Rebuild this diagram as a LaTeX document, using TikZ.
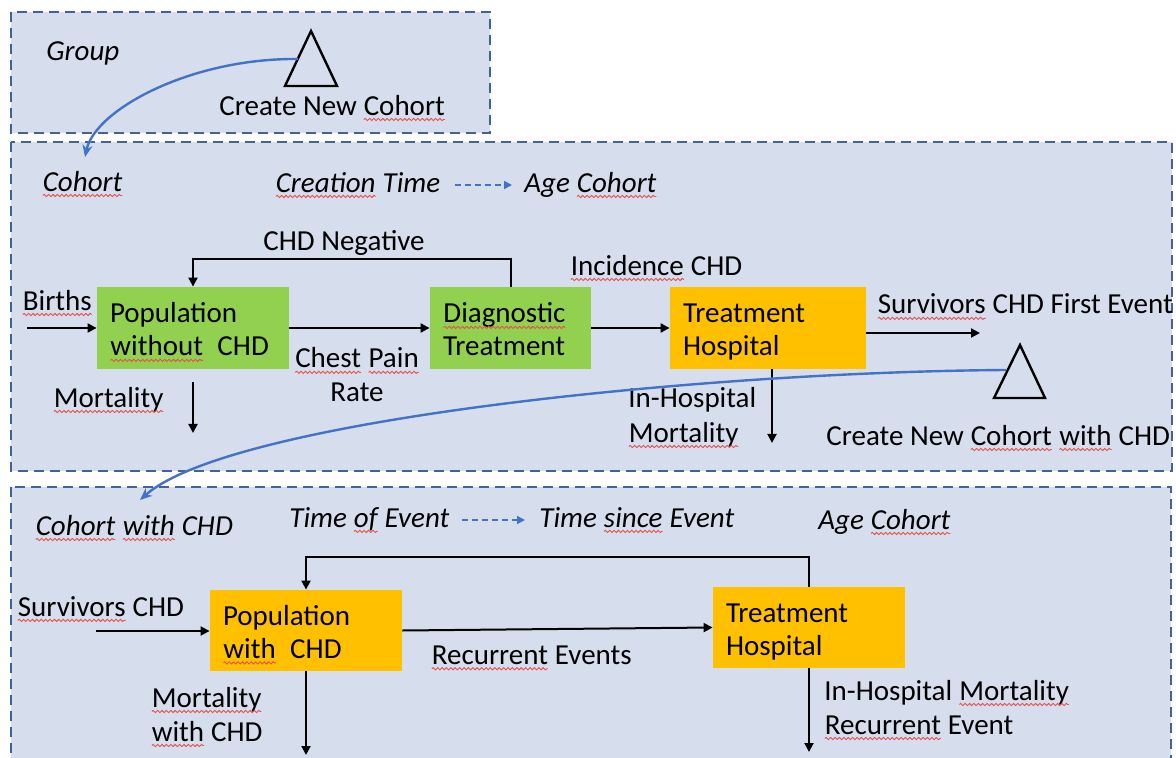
\documentclass[tikz,border=0pt]{standalone}
\usepackage{fontspec}
\setmainfont{Carlito}
\usetikzlibrary{arrows.meta,calc,decorations.pathmorphing}
\definecolor{panel}{RGB}{214,222,238}
\definecolor{frame}{RGB}{64,100,152}
\definecolor{link}{RGB}{68,114,196}
\definecolor{leaf}{RGB}{146,208,80}
\definecolor{amber}{RGB}{255,192,0}
\definecolor{spell}{RGB}{232,80,80}
% word with a wavy spelling underline
\newcommand\sq[1]{\tikz[baseline=(sqw.base)]{%
  \node[inner sep=0pt, outer sep=0pt, text width={}, minimum width=0pt,
        minimum height=0pt, fill=none, draw=none, anchor=center] (sqw) {#1};
  \draw[spell, line width=0.45pt, solid, decorate,
        decoration={snake, amplitude=0.55pt, segment length=2.2pt}]
    ([yshift=-2.2pt]sqw.base west) -- ([yshift=-2.2pt]sqw.base east);}}
% fixed line heights inside the boxes
\newcommand\topln{\rule{0pt}{15.5pt}}
\newcommand\botln{\rule[-4pt]{0pt}{4pt}}
\tikzset{
  x=0.5pt, y=-0.5pt,
  panelbox/.style={fill=panel, draw=frame, line width=1pt, dash pattern=on 5pt off 3pt},
  lbl/.style={inner sep=0pt, anchor=west, align=left, yshift=-1pt,
    font=\fontsize{14.5}{17}\selectfont},
  itl/.style={lbl, font=\fontsize{14.5}{17}\selectfont\itshape},
  stock/.style={fill=#1, inner xsep=6.5pt, inner ysep=0pt, align=left,
    minimum height=41pt, font=\fontsize{14.5}{16.5}\selectfont},
  arr/.style={-{Triangle[length=4.5pt,width=4.5pt]}, line width=1pt},
  flow/.style={-{Stealth[length=6pt,width=5pt]}, draw=link, line width=1.2pt},
  dashlink/.style={-{Triangle[length=4pt,width=4pt]}, draw=link, line width=0.8pt, dash pattern=on 3pt off 2pt},
  tri/.style={draw=black, line width=1.2pt, line join=miter}
}
\begin{document}
\begin{tikzpicture}
\path[clip] (0,0) rectangle (1176,758);

% panels
\draw[panelbox] (11,12) rectangle (490,133);
\draw[panelbox] (11,142) rectangle (1172,471);
\draw[panelbox] (11,487) rectangle (1171,790);

% ---- Group panel
\node[itl] (group) at (46,51) {Group};
\coordinate (t1a) at (311,31);
\coordinate (t1b) at (337,86);
\coordinate (t1c) at (285,86);
\draw[tri] (t1a) -- (t1b) -- (t1c) -- cycle;
\coordinate (t1out) at (298,59);
\node[lbl] (cnc) at (219,106) {Create New \sq{Cohort}};

% ---- Cohort panel
\node[itl] (cohortlbl) at (42,182) {\sq{Cohort}};
\node[itl] (ct) at (275,183) {\sq{Creation} Time};
\node[itl] (ac) at (524,183) {Age \sq{Cohort}};
\draw[dashlink] ([xshift=7pt]ct.east) -- ([xshift=-6pt]ac.west);

\node[stock=leaf, minimum width=96pt, text width=83pt] (pop) at (193,328)
  {\topln Population\\\sq{without}\hspace{7pt}CHD\botln};
\node[stock=leaf, minimum width=80.5pt, text width=67.5pt] (diag) at (510.5,328)
  {\topln\sq{Diagnostic}\\Treatment\botln};
\node[stock=amber, minimum width=98pt, text width=85pt] (treat1) at (768,328)
  {\topln Treatment\\Hospital\botln};

\node[lbl, anchor=center] (neg) at (344,241) {CHD Negative};
\node[lbl] (births) at (22,301) {\sq{Births}};
\node[lbl, anchor=center, align=center, yshift=0.5pt] (chest) at (357,374) {\sq{Chest} \sq{Pain}\\Rate};
\node[lbl] (mort1lbl) at (53,398) {\sq{Mortality}};
\node[lbl] (incid) at (570,266) {\sq{Incidence} CHD};
\node[lbl] (survlbl) at (877,305) {\sq{Survivors} CHD First Event};
\node[lbl, font=\fontsize{14.5}{17.5}\selectfont] (inhosp) at (628,415.5) {In-Hospital\\\sq{Mortality}};

\coordinate (birthsin) at (27,328);
\draw[arr] (birthsin) -- (pop.west);
\draw[arr] (pop.east) -- (diag.west);
\draw[arr] (diag.east) -- (treat1.west);
\coordinate (survout) at (980,333);
\draw[arr] (treat1.east |- survout) -- (survout);
\coordinate (mort1) at (193,433);
\draw[arr] ([yshift=-6.5pt]pop.south) -- (mort1);
\coordinate (mort2) at (772,443);
\draw[arr] (treat1.south -| mort2) -- (mort2);
\draw[arr] (diag.north) -- ++(0,-28) -| (pop.north);

\coordinate (t2a) at (1020,345);
\coordinate (t2b) at (1045,398);
\coordinate (t2c) at (994,398);
\draw[tri] (t2a) -- (t2b) -- (t2c) -- cycle;
\coordinate (t2out) at (1006,370);
\node[lbl] (cnc2) at (826,436) {Create New \sq{Cohort} \sq{with} CHD};

% ---- Cohort with CHD panel
\node[itl] (cwc) at (35,526) {\sq{Cohort} \sq{with} CHD};
\node[itl] (toe) at (289,518) {Time \sq{of} Event};
\node[itl] (tse) at (539,518) {Time \sq{since} Event};
\draw[dashlink] ([xshift=6pt]toe.east) -- ([xshift=-7pt]tse.west);
\node[itl] (ac2) at (818,520) {Age \sq{Cohort}};

\node[stock=amber, minimum width=96pt, text width=83pt, minimum height=40.5pt] (popc) at (306,630.5)
  {\topln Population\\\sq{with}\hspace{7pt}CHD\botln};
\node[stock=amber, minimum width=96pt, text width=83pt, minimum height=40.5pt] (treat2) at (809,627.5)
  {\topln Treatment\\Hospital\botln};

\node[lbl] (survchd) at (17,607) {\sq{Survivors} CHD};
\node[lbl] (recur) at (431,656) {\sq{Recurrent} Events};
\node[lbl] (mortchd) at (151,715) {\sq{Mortality}\\\sq{with} CHD};
\node[lbl] (inhm) at (824,708) {In-Hospital \sq{Mortality}\\\sq{Recurrent} Event};

\coordinate (survin) at (96,631);
\draw[arr] (survin) -- (survin -| popc.west);
\draw[arr] (popc.east) -- (treat2.west);
\draw[arr] (treat2.north) -- ++(0,-30) -| (popc.north);
\coordinate (mort3) at (306,755);
\draw[arr] (popc.south) -- (mort3);
\coordinate (mort4) at (809,752);
\draw[arr] (treat2.south) -- (mort4);

% ---- cohort creation links
\coordinate (cohortin) at (85,157);
\draw[flow] (t1out) .. controls (190,58) and (95,110) .. (cohortin);
\coordinate (cwcin) at (140,500);
\draw[flow] (t2out) .. controls (700,372) and (230,420) .. (cwcin);
\end{tikzpicture}
\end{document}
